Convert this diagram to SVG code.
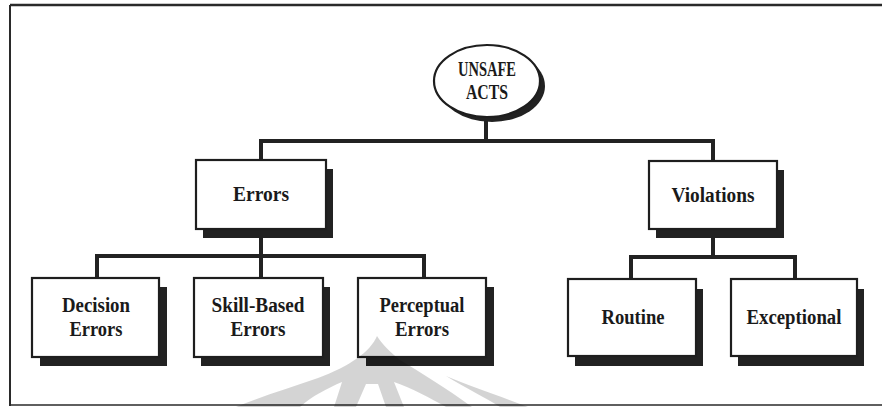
<svg xmlns="http://www.w3.org/2000/svg" width="882" height="407" viewBox="0 0 882 407">
  <style>
    .box { fill: #ffffff; stroke: #1e1e1e; stroke-width: 2.2; }
    .shadow { fill: #222222; }
    .lbl { font-family: "Liberation Serif", "Times New Roman", serif; font-weight: bold; font-size: 20px; fill: #1a1a1a; text-anchor: middle; }
    .wire { stroke: #222222; stroke-width: 4; fill: none; stroke-linecap: square; }
    .frame { stroke: #2a2a2a; fill: none; }
  </style>

  <rect width="882" height="407" fill="#ffffff"/>

  <!-- outer frame -->
  <g id="frame">
    <line class="frame" x1="10" y1="5" x2="882" y2="5" stroke-width="2.5"/>
    <line class="frame" x1="10" y1="5" x2="10" y2="406" stroke-width="2"/>
    <line class="frame" x1="10" y1="405" x2="882" y2="405" stroke-width="1.5" stroke="#555555"/>
  </g>

  <!-- connectors -->
  <g id="connectors">
    <line class="wire" x1="486" y1="118" x2="486" y2="141"/>
    <line class="wire" x1="261" y1="141" x2="713" y2="141"/>
    <line class="wire" x1="261" y1="141" x2="261" y2="160"/>
    <line class="wire" x1="713" y1="141" x2="713" y2="161"/>

    <line class="wire" x1="261" y1="236" x2="261" y2="256"/>
    <line class="wire" x1="97" y1="256" x2="424" y2="256"/>
    <line class="wire" x1="97" y1="256" x2="97" y2="278"/>
    <line class="wire" x1="261" y1="256" x2="261" y2="278"/>
    <line class="wire" x1="424" y1="256" x2="424" y2="278"/>

    <line class="wire" x1="713" y1="236" x2="713" y2="257"/>
    <line class="wire" x1="631" y1="257" x2="795" y2="257"/>
    <line class="wire" x1="631" y1="257" x2="631" y2="279"/>
    <line class="wire" x1="795" y1="257" x2="795" y2="279"/>
  </g>

  <!-- root ellipse -->
  <g id="unsafe-acts">
    <ellipse class="shadow" cx="492" cy="86" rx="53" ry="36"/>
    <ellipse class="box" cx="487" cy="81" rx="53" ry="36"/>
    <text class="lbl" x="487" y="76" textLength="58" lengthAdjust="spacingAndGlyphs">UNSAFE</text>
    <text class="lbl" x="487" y="99" textLength="42" lengthAdjust="spacingAndGlyphs">ACTS</text>
  </g>

  <g id="errors">
    <rect class="shadow" x="203" y="169" width="130" height="69"/>
    <rect class="box" x="196" y="160" width="130" height="69"/>
    <text class="lbl" x="261" y="201" textLength="56" lengthAdjust="spacingAndGlyphs">Errors</text>
  </g>

  <g id="violations">
    <rect class="shadow" x="656" y="170" width="128" height="68"/>
    <rect class="box" x="649" y="161" width="128" height="68"/>
    <text class="lbl" x="713" y="202" textLength="83" lengthAdjust="spacingAndGlyphs">Violations</text>
  </g>

  <g id="decision-errors">
    <rect class="shadow" x="40" y="287" width="127" height="79"/>
    <rect class="box" x="32" y="278" width="127" height="79"/>
    <text class="lbl" x="96" y="312" textLength="68" lengthAdjust="spacingAndGlyphs">Decision</text>
    <text class="lbl" x="96" y="336" textLength="53" lengthAdjust="spacingAndGlyphs">Errors</text>
  </g>

  <g id="skill-based-errors">
    <rect class="shadow" x="201" y="287" width="129" height="79"/>
    <rect class="box" x="194" y="278" width="129" height="79"/>
    <text class="lbl" x="258" y="312" textLength="93" lengthAdjust="spacingAndGlyphs">Skill-Based</text>
    <text class="lbl" x="258" y="336" textLength="55" lengthAdjust="spacingAndGlyphs">Errors</text>
  </g>

  <g id="perceptual-errors">
    <rect class="shadow" x="366" y="287" width="128" height="79"/>
    <rect class="box" x="358" y="278" width="128" height="79"/>
    <text class="lbl" x="422" y="312" textLength="85" lengthAdjust="spacingAndGlyphs">Perceptual</text>
    <text class="lbl" x="422" y="336" textLength="54" lengthAdjust="spacingAndGlyphs">Errors</text>
  </g>

  <g id="routine">
    <rect class="shadow" x="575" y="289" width="128" height="77"/>
    <rect class="box" x="568" y="279" width="128" height="77"/>
    <text class="lbl" x="633" y="324" textLength="63" lengthAdjust="spacingAndGlyphs">Routine</text>
  </g>

  <g id="exceptional">
    <rect class="shadow" x="738" y="289" width="126" height="77"/>
    <rect class="box" x="731" y="279" width="126" height="77"/>
    <text class="lbl" x="794" y="324" textLength="95" lengthAdjust="spacingAndGlyphs">Exceptional</text>
  </g>

  <!-- faint background emblem near the bottom edge -->
  <g id="emblem" fill="#000000" fill-opacity="0.17">
    <path d="M377,336 C370,352 350,366 318,378 C290,388 262,396 236,407 L300,407 C312,396 328,388 342,382 L334,407 L356,407 L366,384 L378,384 L386,407 L404,407 L394,382 C412,388 430,398 446,407 L472,407 C446,388 420,372 400,360 C390,352 382,344 377,336 Z"/>
    <path d="M446,376 C470,386 500,396 528,407 L500,407 C486,398 466,388 446,376 Z"/>
  </g>
</svg>
